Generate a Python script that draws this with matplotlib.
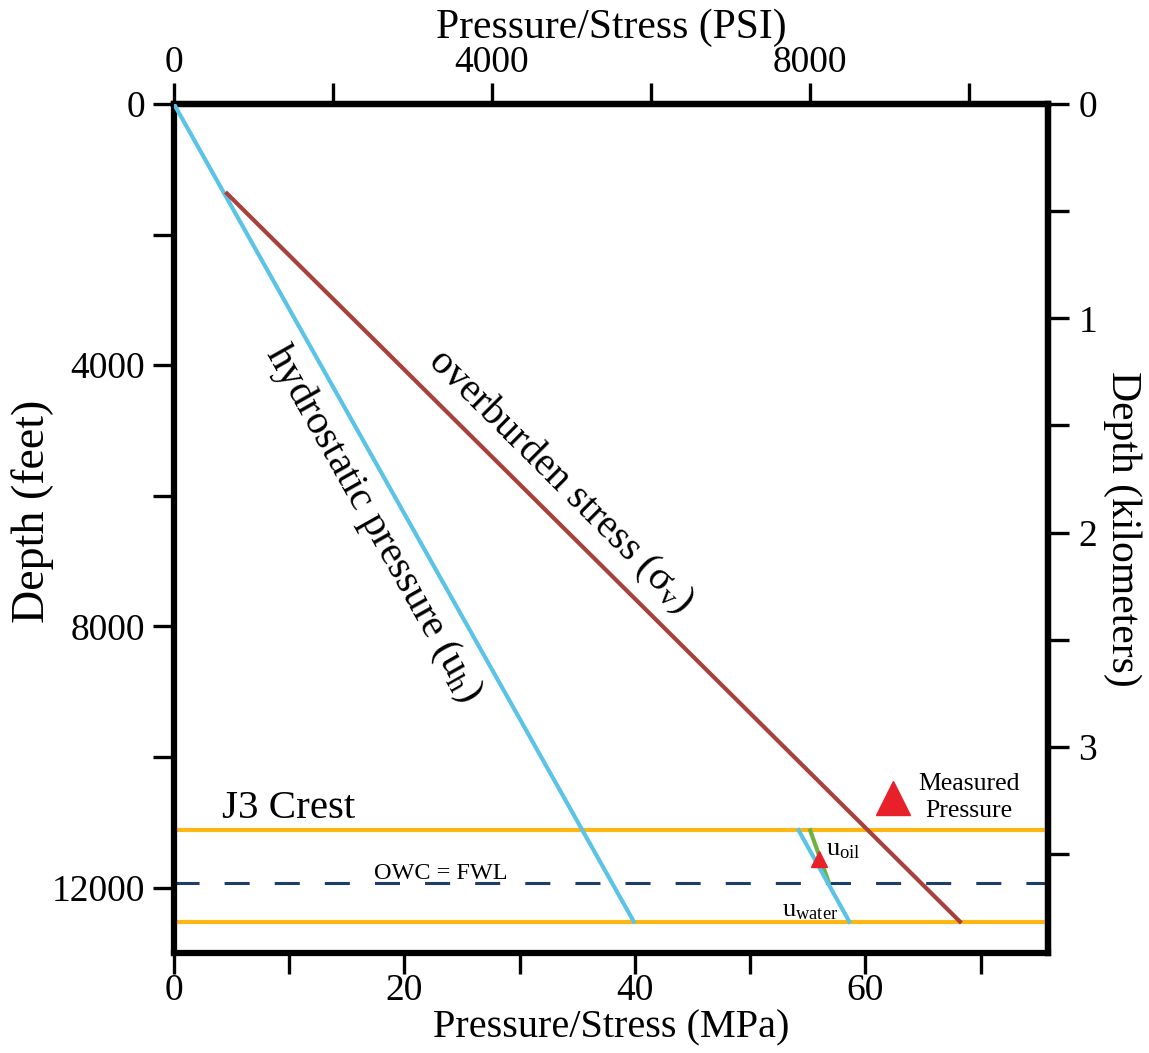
import matplotlib
matplotlib.use("Agg")
import matplotlib.pyplot as plt
import numpy as np

plt.rcParams["font.family"] = ["Liberation Serif", "DejaVu Serif"]
plt.rcParams["mathtext.fontset"] = "stix"

PSI_PER_MPA = 145.0377
FT_PER_KM = 3280.84

# depth in feet, pressure/stress in MPa
hydro_depth = [0, 12520]
hydro_mpa = [0, 39.9]

over_depth = [1370, 12520]
over_mpa = [4.6, 68.2]

water_depth = [11120, 12520]
water_mpa = [54.2, 58.6]

oil_depth = [11120, 11910]
oil_mpa = [55.2, 56.8]

crest_depth = 11120
base_depth = 12520
owc_depth = 11930

measured_mpa = [62.4]
measured_depth = [10630]
oil_point_mpa = [56.0]
oil_point_depth = [11560]

x_ticks = [0, 10, 20, 30, 40, 50, 60, 70]
x_labels = ["0", "", "20", "", "40", "", "60", ""]
psi_ticks = [0, 2000, 4000, 6000, 8000, 10000]
psi_labels = ["0", "", "4000", "", "8000", ""]
ft_ticks = [0, 2000, 4000, 6000, 8000, 10000, 12000]
ft_labels = ["0", "", "4000", "", "8000", "", "12000"]
km_ticks = [0, 0.5, 1, 1.5, 2, 2.5, 3, 3.5]
km_labels = ["0", "", "1", "", "2", "", "3", ""]

BLUE = "#5bc4e6"
BROWN = "#a8403b"
ORANGE = "#fdb714"
NAVY = "#1f3d6b"
GREEN = "#6cb43f"
RED = "#e8202a"

fig = plt.figure(figsize=(11.49, 10.53), dpi=100)
ax = fig.add_axes([0.1514, 0.095, 0.7607, 0.8062])

xmax = 11000 / PSI_PER_MPA
ax.set_xlim(0, xmax)
ax.set_ylim(13000, 0)

ax.axhline(crest_depth, color=ORANGE, lw=3, zorder=1)
ax.axhline(base_depth, color=ORANGE, lw=3, zorder=1)
ax.axhline(owc_depth, color=NAVY, lw=2.2, ls=(0, (8.2, 8.2)), zorder=1)

ax.plot(hydro_mpa, hydro_depth, color=BLUE, lw=3, zorder=3)
ax.plot(over_mpa, over_depth, color=BROWN, lw=3, zorder=3)
ax.plot(water_mpa, water_depth, color=BLUE, lw=3, zorder=3)
ax.plot(oil_mpa, oil_depth, color=GREEN, lw=3, zorder=2)

ax.plot(measured_mpa, measured_depth, marker="^", ms=24, color=RED, ls="none", zorder=4)
ax.plot(oil_point_mpa, oil_point_depth, marker="^", ms=11, color=RED, ls="none", zorder=4)

# text labels
ax.text(17.3, 6420, r"hydrostatic pressure ($\mathregular{u_h}$)", fontsize=29.5,
        rotation=-60.6, ha="center", va="center", rotation_mode="anchor")
ax.text(33.5, 5780, r"overburden stress ($\mathregular{\sigma_v}$)", fontsize=29,
        rotation=-44.8, ha="center", va="center", rotation_mode="anchor")
ax.text(4.2, 10940, "J3 Crest", fontsize=29.5, ha="left", va="baseline")
ax.text(17.4, 11870, "OWC = FWL", fontsize=17.5, ha="left", va="baseline")
ax.text(69.0, 10620, "Measured\nPressure", fontsize=18.5, ha="center", va="center",
        linespacing=1.3)
ax.text(56.6, 11430, r"$\mathregular{u_{oil}}$", fontsize=19, ha="left", va="center")
ax.text(52.8, 12350, r"$\mathregular{u_{water}}$", fontsize=19, ha="left", va="center")

# axes styling
for s in ax.spines.values():
    s.set_linewidth(4.5)

ax.set_xticks(x_ticks)
ax.set_xticklabels(x_labels)
ax.set_yticks(ft_ticks)
ax.set_yticklabels(ft_labels)
ax.tick_params(axis="both", direction="out", length=15, width=2.4, labelsize=27)
ax.tick_params(axis="x", pad=0)
ax.tick_params(axis="y", pad=6)
ax.set_xlabel("Pressure/Stress (MPa)", fontsize=29)
ax.xaxis.set_label_coords(0.5, -0.066)
ax.set_ylabel("Depth (feet)", fontsize=33)
ax.yaxis.set_label_coords(-0.137, 0.52)

top = ax.secondary_xaxis("top", functions=(lambda m: m * PSI_PER_MPA,
                                           lambda p: p / PSI_PER_MPA))
top.set_xticks(psi_ticks)
top.set_xticklabels(psi_labels)
top.tick_params(direction="out", length=15, width=2.4, labelsize=27, pad=2)
top.set_xlabel("Pressure/Stress (PSI)", fontsize=30, labelpad=6)
top.spines["top"].set_linewidth(4.5)

right = ax.secondary_yaxis("right", functions=(lambda f: f / FT_PER_KM,
                                               lambda k: k * FT_PER_KM))
right.set_yticks(km_ticks)
right.set_yticklabels(km_labels)
right.tick_params(direction="out", length=15, width=2.4, labelsize=27, pad=7)
right.set_ylabel("Depth (kilometers)", fontsize=30, rotation=270, labelpad=32)
right.spines["right"].set_linewidth(4.5)

fig.savefig("out.png", dpi=100)
